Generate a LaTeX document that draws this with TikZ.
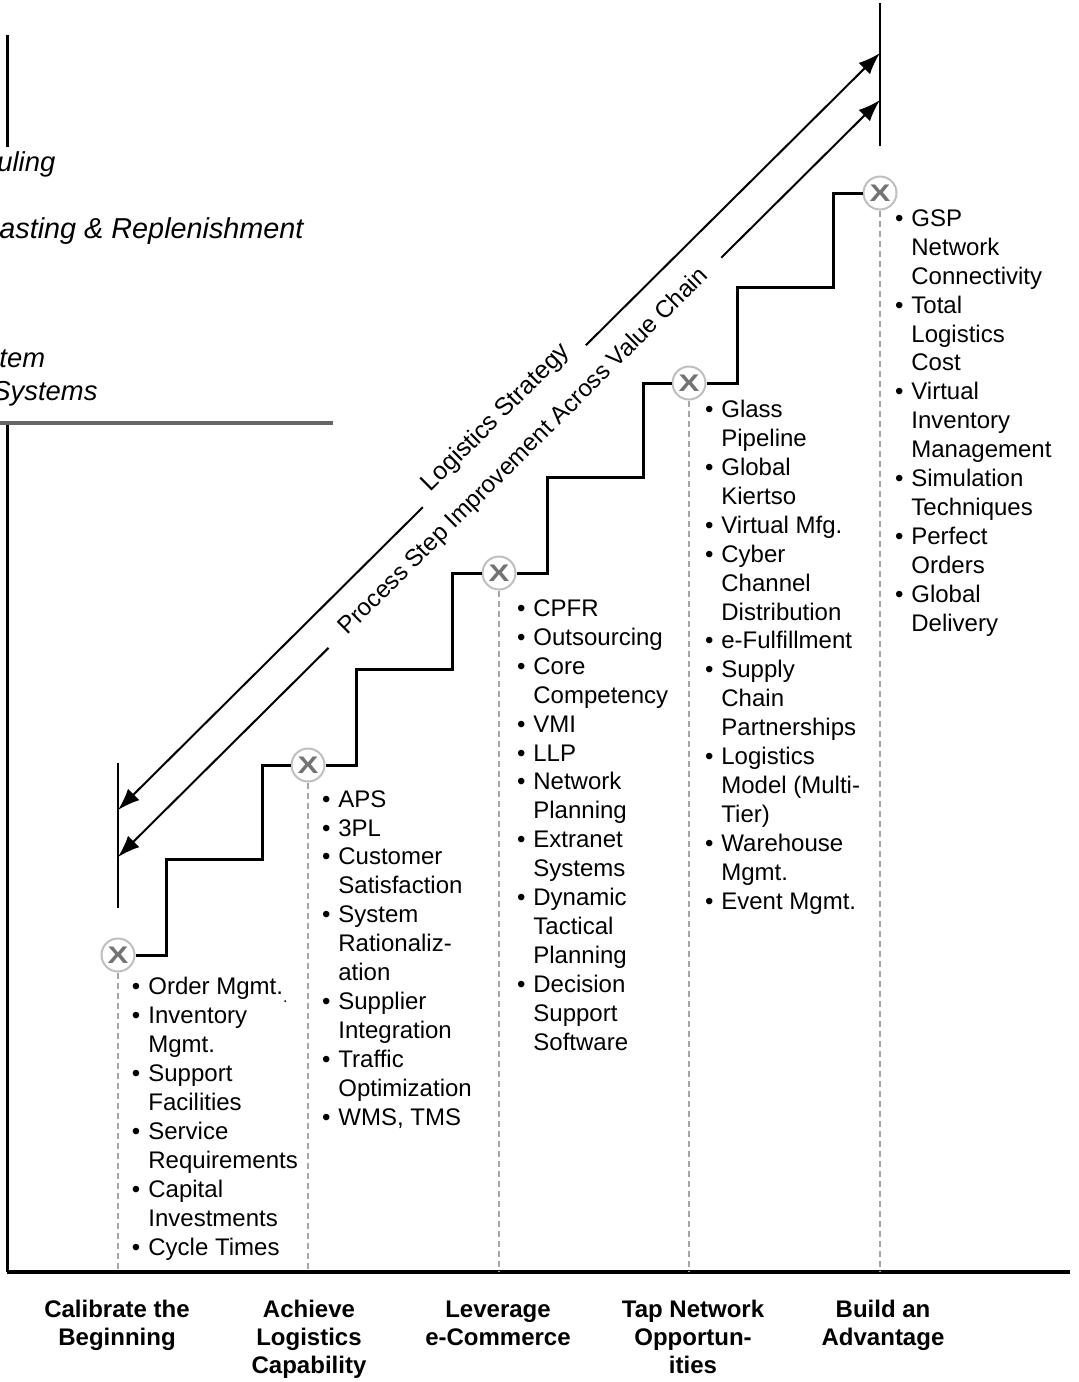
\documentclass[tikz,border=0pt]{standalone}
\usepackage{fontspec}
\setmainfont{Liberation Sans}
\usetikzlibrary{arrows.meta}
\newcommand{\bul}{\llap{\textbullet\hspace{4pt}}}
\newcommand{\wideX}{\scalebox{1.3}[1]{X}}

\begin{document}
\begin{tikzpicture}[x=0.5pt,y=-0.5pt]
\tikzset{stair/.style={line width=1.5pt}}
\tikzset{guide/.style={gray!70,dash pattern=on 3pt off 2pt,line width=0.6pt}}
\tikzset{xcirc/.style={circle,draw=gray!50,fill=white,line width=1pt,minimum size=16.5pt,inner sep=0pt,text=black!55,font=\fontsize{12}{12}\selectfont\bfseries}}
\tikzset{items/.style={anchor=base west,align=left,inner sep=0pt,font=\fontsize{12}{14.45}\selectfont}}
\tikzset{stage/.style={anchor=base,align=center,inner sep=0pt,font=\fontsize{12}{14}\selectfont\bfseries}}
\tikzset{frag/.style={anchor=base west,inner sep=0pt,font=\fontsize{13.7}{13.7}\selectfont\itshape}}
\tikzset{twoway/.style={line width=1pt,{Latex[length=11pt,width=8pt]}-{Latex[length=11pt,width=8pt]}}}
\tikzset{slogan/.style={sloped,fill=white,anchor=base,inner xsep=8pt,inner ysep=2pt,font=\fontsize{12.5}{12.5}\selectfont}}

\useasboundingbox (0,0) rectangle (1078,1382);

\begin{scope}
\clip (0,0) rectangle (1078,1382);
\node[frag] (f1) at (-3,171) {uling};
\node[frag,font=\fontsize{14.4}{14.4}\selectfont\itshape] (f2) at (-1,238) {asting \& Replenishment};
\node[frag] (f3) at (-1,367) {tem};
\node[frag] (f4) at (-8,400) {Systems};
\end{scope}

\coordinate (t0) at (7,35);
\coordinate (t1) at (7,147);
\coordinate (g0) at (0,423);
\coordinate (g1) at (333,423);
\coordinate (a0) at (7,425);
\coordinate (b0) at (7,1272);
\coordinate (b1) at (1070,1272);
\draw[line width=1.5pt] (t0) -- (t1);
\draw[line width=2pt,black!60] (g0) -- (g1);
\draw[line width=1.5pt] (a0) -- (b0);
\draw[line width=2pt] (b0) -- (b1);

\foreach \i/\x/\y in {1/118/955,2/308/765,3/499/573,4/689/383,5/880/193}{
  \node[xcirc] (c\i) at (\x,\y) {\wideX};
  \draw[guide] (c\i.south) -- (c\i |- b0);
}
\foreach \a/\b in {c1/c2,c2/c3,c3/c4,c4/c5}
  \draw[stair] (\a.east) -- ++(31,0) |- ++(96,-96) |- (\b.west);

\coordinate (lb0) at (118,763);
\coordinate (lb1) at (118,908);
\coordinate (rb0) at (880,3);
\coordinate (rb1) at (880,146);
\draw[line width=0.75pt] (lb0) -- (lb1);
\draw[line width=0.75pt] (rb0) -- (rb1);
\coordinate (la) at (118,810);
\coordinate (ra) at (880,53);
\coordinate (lp) at (118,857);
\coordinate (rp) at (880,100);
\draw[twoway] (la) -- (ra) node[slogan,pos=0.507,yshift=2.5pt] (ls) {Logistics Strategy};
\draw[twoway] (lp) -- (rp) node[slogan,pos=0.534,yshift=-2.5pt,inner xsep=11pt,font=\fontsize{12.1}{12.1}\selectfont] (ps) {Process Step Improvement Across Value Chain};

\node[items] (l1) at (148,1255) {\bul Order Mgmt.{\fontsize{8}{8}\selectfont\raisebox{-4pt}{.}}\\\bul Inventory\\Mgmt.\\\bul Support\\Facilities\\\bul Service\\Requirements\\\bul Capital\\Investments\\\bul Cycle Times};
\node[items] (l2) at (338,1125) {\bul APS\\\bul 3PL\\\bul Customer\\Satisfaction\\\bul System\\Rationaliz-\\ation\\\bul Supplier\\Integration\\\bul Traffic\\Optimization\\\bul WMS, TMS};
\node[items] (l3) at (533,1050) {\bul CPFR\\\bul Outsourcing\\\bul Core\\Competency\\\bul VMI\\\bul LLP\\\bul Network\\Planning\\\bul Extranet\\Systems\\\bul Dynamic\\Tactical\\Planning\\\bul Decision\\Support\\Software};
\node[items] (l4) at (721,909) {\bul Glass\\Pipeline\\\bul Global\\Kiertso\\\bul Virtual Mfg.\\\bul Cyber\\Channel\\Distribution\\\bul e-Fulfillment\\\bul Supply\\Chain\\Partnerships\\\bul Logistics\\Model (Multi-\\Tier)\\\bul Warehouse\\Mgmt.\\\bul Event Mgmt.};
\node[items] (l5) at (911,631) {\bul GSP\\Network\\Connectivity\\\bul Total\\Logistics\\Cost\\\bul Virtual\\Inventory\\Management\\\bul Simulation\\Techniques\\\bul Perfect\\Orders\\\bul Global\\Delivery};

\node[stage] (s1) at (117,1345) {Calibrate the\\Beginning};
\node[stage] (s2) at (309,1373) {Achieve\\Logistics\\Capability};
\node[stage] (s3) at (498,1345) {Leverage\\e-Commerce};
\node[stage] (s4) at (693,1373) {Tap Network\\Opportun-\\ities};
\node[stage] (s5) at (883,1345) {Build an\\Advantage};
\end{tikzpicture}
\end{document}
